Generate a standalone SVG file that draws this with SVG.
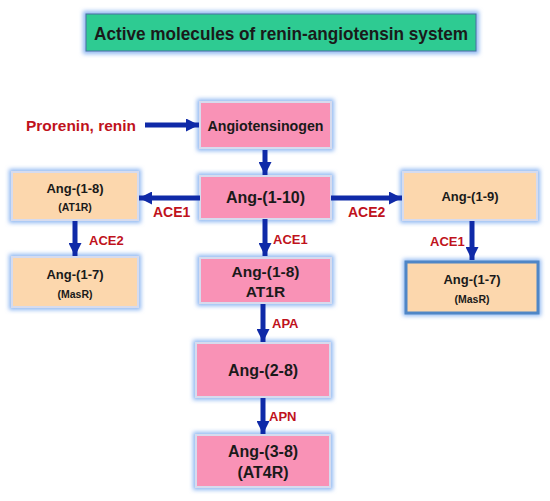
<svg xmlns="http://www.w3.org/2000/svg" width="550" height="501" viewBox="0 0 550 501">
<defs>
<filter id="glow" x="-20%" y="-30%" width="140%" height="160%">
<feGaussianBlur stdDeviation="2"/>
</filter>
<marker id="ah" viewBox="0 0 10 10" refX="10" refY="5" markerWidth="13" markerHeight="13" markerUnits="userSpaceOnUse" orient="auto">
<path d="M0,0 L10,5 L0,10 Z" fill="#0f2aa8"/>
</marker>
<style>
.halo{fill:none;stroke:#8fb8f2;stroke-width:6;filter:url(#glow)}
.pink{fill:#f992b6;stroke:#d6dbee;stroke-width:2}
.peach{fill:#fcd7ad;stroke:#d6dbee;stroke-width:2}
.t{font-family:"Liberation Sans",Arial,sans-serif;font-weight:bold;fill:#1a1a1a;text-anchor:middle}
.lab{font-family:"Liberation Sans",Arial,sans-serif;font-weight:bold;fill:#c0121c}
.arr{stroke:#0f2aa8;stroke-width:5;fill:none;marker-end:url(#ah)}
</style>
</defs>
<rect width="550" height="501" fill="#ffffff"/>

<g id="title">
<rect x="86" y="14" width="390" height="37" class="halo"/>
<rect x="86" y="14" width="390" height="37" fill="#2ecb92" stroke="#4a6fa0" stroke-width="1"/>
<text x="281" y="40" class="t" font-size="19" textLength="374" lengthAdjust="spacingAndGlyphs" fill="#111">Active molecules of renin-angiotensin system</text>
</g>

<g id="prorenin">
<text x="26" y="131" class="lab" font-size="15.5" textLength="110" lengthAdjust="spacingAndGlyphs">Prorenin, renin</text>
</g>

<g id="angiotensinogen">
<rect x="200" y="102" width="131" height="46" class="halo"/>
<rect x="200" y="102" width="131" height="46" class="pink"/>
<text x="265.5" y="131" class="t" font-size="14.5" textLength="116" lengthAdjust="spacingAndGlyphs">Angiotensinogen</text>
</g>

<g id="ang110">
<rect x="200" y="176" width="131" height="43" class="halo"/>
<rect x="200" y="176" width="131" height="43" class="pink"/>
<text x="265.5" y="203" class="t" font-size="16">Ang-(1-10)</text>
</g>

<g id="ang18left">
<rect x="12" y="172" width="126" height="48" class="halo"/>
<rect x="12" y="172" width="126" height="48" class="peach"/>
<text x="75" y="193" class="t" font-size="13">Ang-(1-8)</text>
<text x="75" y="211" class="t" font-size="10.5">(AT1R)</text>
</g>

<g id="ang19">
<rect x="403" y="172" width="134" height="48" class="halo"/>
<rect x="403" y="172" width="134" height="48" class="peach"/>
<text x="470" y="201" class="t" font-size="13">Ang-(1-9)</text>
</g>

<g id="ang17left">
<rect x="12" y="257" width="126" height="50" class="halo"/>
<rect x="12" y="257" width="126" height="50" class="peach"/>
<text x="75" y="279" class="t" font-size="13">Ang-(1-7)</text>
<text x="75" y="298" class="t" font-size="10.5">(MasR)</text>
</g>

<g id="ang18center">
<rect x="200" y="258" width="131" height="45" class="halo"/>
<rect x="200" y="258" width="131" height="45" class="pink"/>
<text x="265.5" y="277" class="t" font-size="15.5">Ang-(1-8)</text>
<text x="265.5" y="297" class="t" font-size="15.5">AT1R</text>
</g>

<g id="ang17right">
<rect x="406" y="262" width="132" height="51" class="halo"/>
<rect x="406" y="262" width="132" height="51" fill="#fcd7ad" stroke="#4f86c6" stroke-width="3"/>
<text x="472" y="284" class="t" font-size="13">Ang-(1-7)</text>
<text x="472" y="303" class="t" font-size="10.5">(MasR)</text>
</g>

<g id="ang28">
<rect x="196" y="343" width="134" height="54" class="halo"/>
<rect x="196" y="343" width="134" height="54" class="pink"/>
<text x="263" y="376" class="t" font-size="16">Ang-(2-8)</text>
</g>

<g id="ang38">
<rect x="196" y="435" width="134" height="52" class="halo"/>
<rect x="196" y="435" width="134" height="52" class="pink"/>
<text x="263" y="457" class="t" font-size="16">Ang-(3-8)</text>
<text x="263" y="478" class="t" font-size="16">(AT4R)</text>
</g>

<g id="connectors">
<line x1="145" y1="125" x2="199" y2="125" class="arr"/>
<line x1="265" y1="150" x2="265" y2="175" class="arr"/>
<line x1="200" y1="198" x2="139" y2="198" class="arr"/>
<line x1="331" y1="198" x2="402" y2="198" class="arr"/>
<line x1="265" y1="219" x2="265" y2="256" class="arr"/>
<line x1="75" y1="221" x2="75" y2="256" class="arr"/>
<line x1="472" y1="221" x2="472" y2="260" class="arr"/>
<line x1="263" y1="304" x2="263" y2="342" class="arr"/>
<line x1="263" y1="398" x2="263" y2="434" class="arr"/>
<text x="153" y="217" class="lab" font-size="14">ACE1</text>
<text x="348" y="217" class="lab" font-size="14">ACE2</text>
<text x="273" y="244" class="lab" font-size="13">ACE1</text>
<text x="89" y="245" class="lab" font-size="13">ACE2</text>
<text x="430" y="246" class="lab" font-size="13">ACE1</text>
<text x="272" y="328" class="lab" font-size="13">APA</text>
<text x="269" y="421" class="lab" font-size="13">APN</text>
</g>
</svg>
